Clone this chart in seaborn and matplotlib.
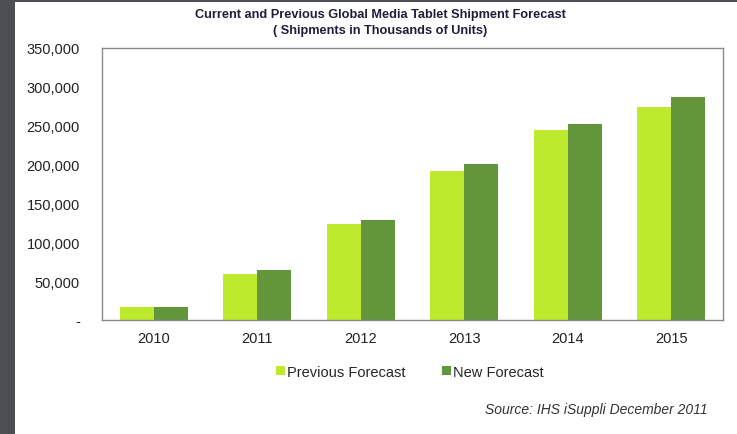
import matplotlib
matplotlib.use("Agg")
import matplotlib.pyplot as plt
from matplotlib.patches import Rectangle
import seaborn as sns
import pandas as pd

years = ["2010", "2011", "2012", "2013", "2014", "2015"]
previous_forecast = [17000, 59000, 123000, 192000, 245000, 274000]
new_forecast = [17000, 64000, 129000, 201000, 252000, 287000]
series_names = ["Previous Forecast", "New Forecast"]
y_ticks = [0, 50000, 100000, 150000, 200000, 250000, 300000, 350000]
y_tick_labels = ["-", "50,000", "100,000", "150,000", "200,000", "250,000", "300,000", "350,000"]

df = pd.DataFrame({
    "Year": years * 2,
    "Shipments": previous_forecast + new_forecast,
    "Series": [series_names[0]] * len(years) + [series_names[1]] * len(years),
})

sns.set_theme(style="white")
plt.rcParams["font.family"] = ["Liberation Sans", "DejaVu Sans"]

W, H = 737, 435
fig = plt.figure(figsize=(W / 100, H / 100), dpi=100)
fig.patch.set_facecolor("#4b4e53")
fig.add_artist(Rectangle((15 / W, 0), 1 - 15 / W, 1 - 3 / H, transform=fig.transFigure,
                         facecolor="white", edgecolor="none", zorder=0))

ax = fig.add_axes([102 / W, 1 - 321 / H, (723 - 102) / W, (321 - 49) / H])
palette = {series_names[0]: "#bdea2c", series_names[1]: "#63963a"}
sns.barplot(data=df, x="Year", y="Shipments", hue="Series", palette=palette,
            width=0.66, saturation=1, linewidth=0, ax=ax, legend=True)

ax.set_ylim(0, 350000)
ax.set_yticks(y_ticks)
ax.set_yticklabels(y_tick_labels)
ax.set_xlabel("")
ax.set_ylabel("")
ax.tick_params(axis="both", length=0, labelsize=10.5, colors="#222222")
ax.tick_params(axis="y", pad=16)
ax.tick_params(axis="x", pad=8)
for s in ax.spines.values():
    s.set_visible(True)
    s.set_color("#8a8a8a")
    s.set_linewidth(1.0)

ax.legend(loc="center", bbox_to_anchor=(410 / W, 1 - 373 / H), bbox_transform=fig.transFigure,
          ncol=2, frameon=False, fontsize=10.5, handlelength=0.6, handleheight=0.6,
          handletextpad=0.15, columnspacing=2.5)

fig.text(380 / W, 1 - 23 / H, "Current and Previous Global Media Tablet Shipment Forecast\n( Shipments in Thousands of Units)",
         ha="center", va="center", fontsize=9.2, fontweight="bold", color="#1e1e3a", linespacing=1.4)

fig.text(708 / W, 1 - 410 / H, "Source: IHS iSuppli December 2011", ha="right", va="center",
         fontsize=10, style="italic", color="#333333")

fig.savefig("out.png", dpi=100, facecolor=fig.get_facecolor())
